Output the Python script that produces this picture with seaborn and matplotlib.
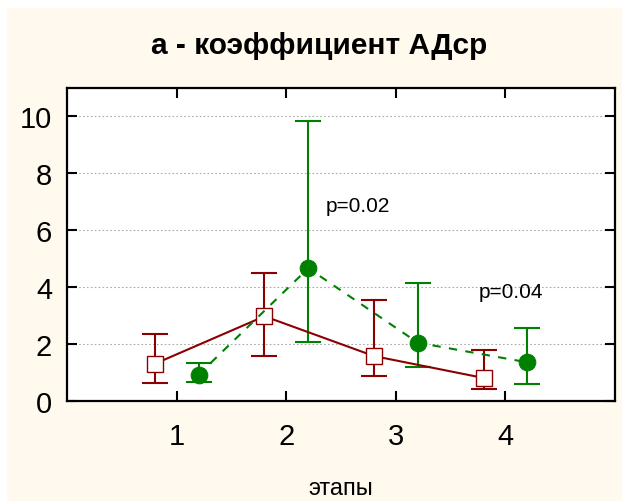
import matplotlib
matplotlib.use("Agg")
import matplotlib.pyplot as plt
from matplotlib.patches import Rectangle
import numpy as np
import pandas as pd
import seaborn as sns

# Stages and group means with lower/upper whisker limits
stages = [1, 2, 3, 4]
stage_labels = ["1", "2", "3", "4"]

group1_mean = [1.30, 2.97, 1.57, 0.80]
group1_low = [0.64, 1.58, 0.87, 0.42]
group1_high = [2.33, 4.49, 3.55, 1.80]

group2_mean = [0.92, 4.66, 2.04, 1.35]
group2_low = [0.67, 2.05, 1.17, 0.60]
group2_high = [1.33, 9.83, 4.14, 2.55]

# p-value annotations: text, x, y (data coordinates)
p_texts = ["p=0.02", "p=0.04"]
p_x = [2.36, 3.76]
p_y = [6.85, 3.84]

title = "а - коэффициент АДср"
xlabel = "этапы"

red = "#8B0000"
green = "#008000"
cream = "#FFF9EE"

sns.set_theme(style="ticks")
plt.rcParams["font.family"] = ["Liberation Sans", "DejaVu Sans"]
plt.rcParams["text.color"] = "black"
plt.rcParams["axes.labelcolor"] = "black"
plt.rcParams["xtick.color"] = "black"
plt.rcParams["ytick.color"] = "black"

fig = plt.figure(figsize=(6.22, 5.02), dpi=100, facecolor="white")
fig.patches.append(Rectangle((7 / 622, 0), 1, 1 - 9 / 502, transform=fig.transFigure,
                             facecolor=cream, edgecolor="none", zorder=-10))
ax = fig.add_axes([67.3 / 622, 1 - 401.7 / 502, (615 - 67.3) / 622, (401.7 - 89) / 502])
ax.set_facecolor("white")

offset = 0.2
df1 = pd.DataFrame({"pos": np.array(stages) - offset, "mean": group1_mean,
                    "low": group1_low, "high": group1_high})
df2 = pd.DataFrame({"pos": np.array(stages) + offset, "mean": group2_mean,
                    "low": group2_low, "high": group2_high})

for df, col in [(df1, red), (df2, green)]:
    ax.errorbar(df["pos"], df["mean"],
                yerr=[df["mean"] - df["low"], df["high"] - df["mean"]],
                fmt="none", ecolor=col, elinewidth=1.5, capsize=9.5, capthick=1.5, zorder=2)

sns.lineplot(data=df1, x="pos", y="mean", ax=ax, color=red, linewidth=1.5,
             marker="s", markersize=12, markerfacecolor="white",
             markeredgecolor=red, markeredgewidth=1.0, zorder=3)
sns.lineplot(data=df2, x="pos", y="mean", ax=ax, color=green, linewidth=1.5,
             linestyle=(0, (4, 4)), marker="o", markersize=12,
             markerfacecolor=green, markeredgecolor=green, zorder=3)

for t, x, y in zip(p_texts, p_x, p_y):
    ax.text(x, y, t, fontsize=15, ha="left", va="center", color="black")

ax.set_xlim(0, 5)
ax.set_ylim(0, 11)
ax.set_xticks(stages)
ax.set_xticklabels(stage_labels)
ax.set_yticks([0, 2, 4, 6, 8, 10])
ax.yaxis.grid(True, linestyle=(0, (1.5, 2)), color="#AAAAAA", linewidth=0.8)
ax.xaxis.grid(False)
ax.tick_params(axis="both", direction="in", length=7, width=1.5, colors="black",
               labelsize=21, top=True, right=True)
ax.tick_params(axis="x", pad=15)
ax.tick_params(axis="y", pad=11)
for s in ax.spines.values():
    s.set_linewidth(1.6)
    s.set_color("black")

ax.set_xlabel(xlabel, fontsize=17, labelpad=20, color="black")
ax.set_ylabel("")
fig.text(319 / 622, 1 - 46 / 502, title, ha="center", va="center",
         fontsize=21.5, fontweight="bold", color="black")

fig.savefig("out.png", dpi=100, facecolor=fig.get_facecolor())
